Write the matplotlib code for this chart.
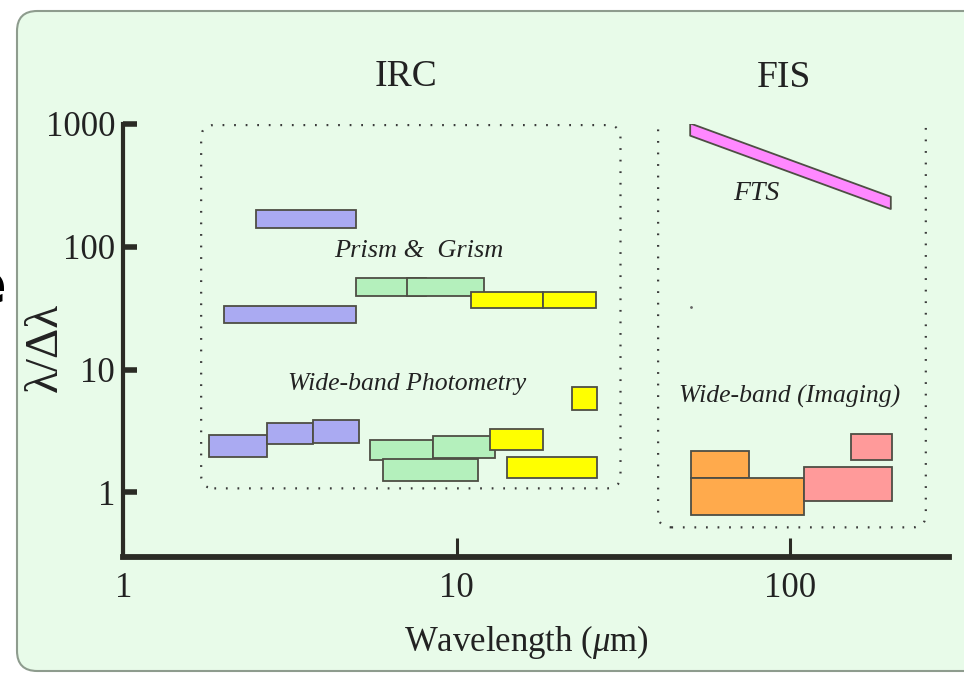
import numpy as np
import matplotlib
matplotlib.use('Agg')
import matplotlib.pyplot as plt
from matplotlib.patches import FancyBboxPatch
from matplotlib.ticker import FixedLocator, NullLocator

plt.rcParams['font.family'] = ['Liberation Serif', 'DejaVu Serif']
plt.rcParams['mathtext.fontset'] = 'custom'
plt.rcParams['mathtext.rm'] = 'Liberation Serif'
plt.rcParams['mathtext.it'] = 'Liberation Serif:italic'

# IRC prism & grism coverage (wavelength in um, resolving power)
prism_wmin = [2.5, 2.0, 5.0, 7.1, 11.0, 18.1]
prism_wmax = [5.0, 5.0, 8.1, 12.1, 18.1, 26.2]
prism_rmin = [142, 24, 40, 40, 32, 32]
prism_rmax = [199, 33, 56, 56, 43, 43]
prism_chan = ['NIR', 'NIR', 'MIR-S', 'MIR-S', 'MIR-L', 'MIR-L']

# IRC wide-band photometry filters
phot_wmin = [1.81, 2.70, 3.70, 5.49, 8.48, 6.01, 12.6, 14.2, 22.2]
phot_wmax = [2.70, 3.70, 5.09, 8.48, 13.0, 11.6, 18.1, 26.4, 26.4]
phot_rmin = [1.94, 2.50, 2.53, 1.83, 1.90, 1.25, 2.20, 1.30, 4.67]
phot_rmax = [2.92, 3.68, 3.92, 2.69, 2.87, 1.86, 3.27, 1.94, 7.19]
phot_chan = ['NIR', 'NIR', 'NIR', 'MIR-S', 'MIR-S', 'MIR-S',
             'MIR-L', 'MIR-L', 'MIR-L']

# FIS wide bands
fis_wmin = [50.3, 50.3, 110.3, 152]
fis_wmax = [75.4, 110.3, 202.6, 202.6]
fis_rmin = [1.30, 0.65, 0.86, 1.85]
fis_rmax = [2.18, 1.30, 1.61, 3.01]
fis_chan = ['SW', 'SW', 'LW', 'LW']

# FIS Fourier-transform spectrometer
fts_wave = [50, 200]
fts_res = [910, 230]

# instrument regions (wavelength range, resolving power range)
irc_region = ([1.71, 31.0], [1.08, 980])
fis_region = ([40.2, 255.6], [0.52, 1207])

chan_color = {'NIR': '#aaaaf2', 'MIR-S': '#b4f0bc', 'MIR-L': '#ffff00',
              'SW': '#ffaa4c', 'LW': '#ff9a9a'}
edge = '#4e4e44'
ink = '#2b2b25'

fig = plt.figure(figsize=(9.64, 6.74), dpi=100)
fig.patch.set_facecolor('white')

# rounded green panel behind everything
panel = FancyBboxPatch((17 / 964, 3 / 674), 1.1, 660 / 674,
                       boxstyle='round,pad=0,rounding_size=0.021',
                       mutation_aspect=964 / 674, transform=fig.transFigure,
                       fc='#e8fbe9', ec='#8e9c8e', lw=1.5, zorder=-1)
fig.add_artist(panel)
fig.text(6 / 964, 1 - 287 / 674, 'e', ha='right', va='center',
         fontsize=40, fontweight='bold', family='DejaVu Sans', color='black')

ax = fig.add_axes([0.12811, 0.17404, 0.85633, 0.64199])
ax.set_facecolor('none')
ax.set_xscale('log')
ax.set_yscale('log')
ax.set_xlim(1, 300)
ax.set_ylim(0.3, 1000)

for s in ['top', 'right']:
    ax.spines[s].set_visible(False)
ax.spines['left'].set_linewidth(3)
ax.spines['bottom'].set_linewidth(4.2)
ax.spines['left'].set_color(ink)
ax.spines['bottom'].set_color(ink)

ax.xaxis.set_major_locator(FixedLocator([1, 10, 100]))
ax.yaxis.set_major_locator(FixedLocator([1, 10, 100, 1000]))
ax.xaxis.set_minor_locator(NullLocator())
ax.yaxis.set_minor_locator(NullLocator())
ax.set_xticklabels(['1', '10', '100'])
ax.set_yticklabels(['1', '10', '100', '1000'])
ax.tick_params(axis='x', direction='in', length=14, width=2.2, pad=11,
               labelsize=25, color=ink, labelcolor='#222')
ax.tick_params(axis='y', direction='in', length=10, width=4, pad=6,
               labelsize=25, color=ink, labelcolor='#222')


def draw_bars(wmin, wmax, rmin, rmax, chan):
    ax.bar(wmin, np.subtract(rmax, rmin), width=np.subtract(wmax, wmin),
           bottom=rmin, align='edge', color=[chan_color[c] for c in chan],
           edgecolor=edge, linewidth=1.3, zorder=3)


draw_bars(prism_wmin, prism_wmax, prism_rmin, prism_rmax, prism_chan)
draw_bars(phot_wmin, phot_wmax, phot_rmin, phot_rmax, phot_chan)
draw_bars(fis_wmin, fis_wmax, fis_rmin, fis_rmax, fis_chan)

fts_res = np.array(fts_res, dtype=float)
ax.fill_between(fts_wave, fts_res / 1.122, fts_res * 1.122,
                facecolor='#ff88ff', edgecolor=edge, linewidth=1.3, zorder=3)
ax.plot([50.5], [32.4], '.', ms=2, color='#666')


def region_box(wr, rr):
    to_axes = ax.transAxes.inverted()
    (x0, y0), (x1, y1) = to_axes.transform(
        ax.transData.transform([(wr[0], rr[0]), (wr[1], rr[1])]))
    box = FancyBboxPatch((x0, y0), x1 - x0, y1 - y0,
                         boxstyle='round,pad=0,rounding_size=0.016',
                         mutation_aspect=825.5 / 432.7, transform=ax.transAxes,
                         fill=False, ec='#3a3a3a', lw=1.6,
                         linestyle=(0, (0.8, 4.4)), zorder=2)
    ax.add_patch(box)


region_box(*irc_region)
region_box(*fis_region)

ax.text(7.04, 2415, 'IRC', ha='center', va='center', fontsize=27, color='#222')
ax.text(95.9, 2372, 'FIS', ha='center', va='center', fontsize=27, color='#222')
ax.text(7.70, 92, 'Prism &  Grism', ha='center', va='center', fontsize=19,
        style='italic', color='#222')
ax.text(7.11, 7.6, 'Wide-band Photometry', ha='center', va='center',
        fontsize=18.5, style='italic', color='#222')
ax.text(79.0, 274, 'FTS', ha='center', va='center', fontsize=20,
        style='italic', color='#222')
ax.text(100, 6.07, 'Wide-band (Imaging)', ha='center', va='center',
        fontsize=18.5, style='italic', color='#222')

fig.text(526 / 964, 1 - 642 / 674, 'Wavelength ($\\mu$m)', ha='center',
         va='center', fontsize=25, color='#222')
fig.text(46 / 964, 1 - 347 / 674, 'λ/Δλ', rotation=90, ha='center',
         va='center', fontsize=34, color='#222')

fig.savefig('out.png', dpi=100, facecolor='white')
